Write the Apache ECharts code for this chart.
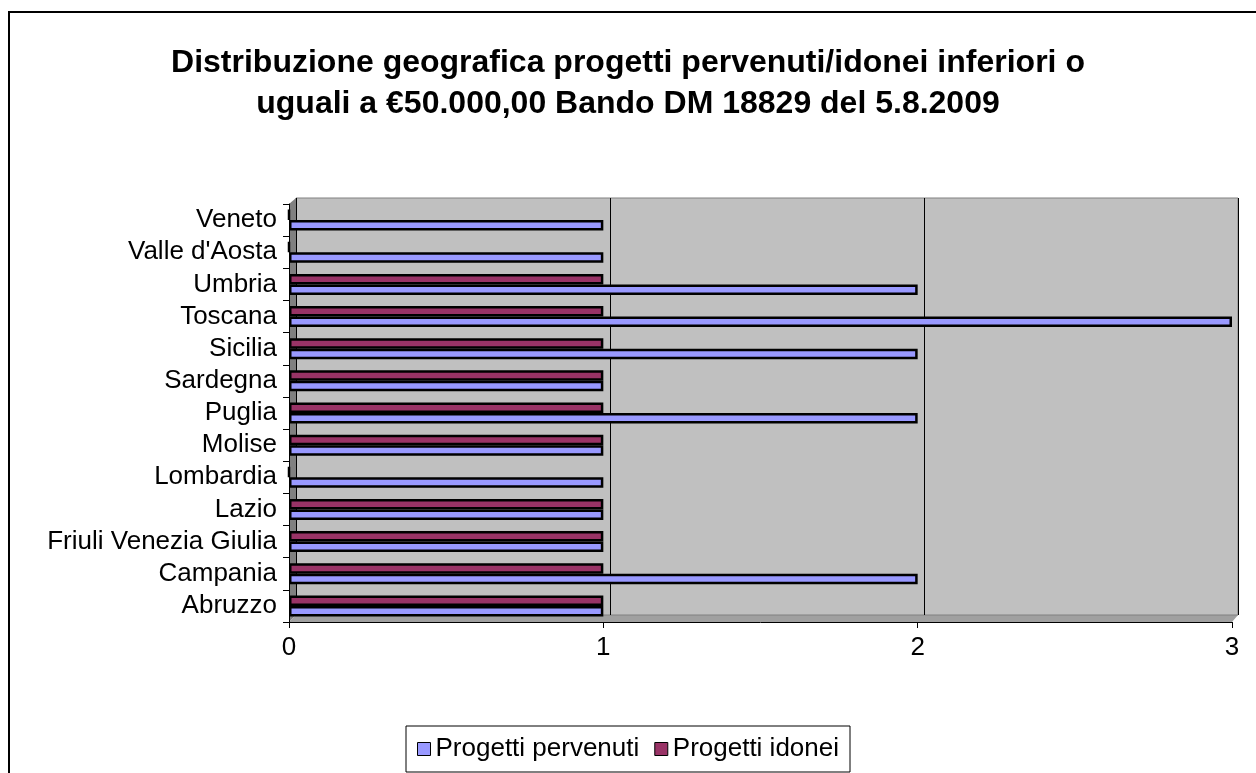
<!DOCTYPE html>
<html>
<head>
<meta charset="utf-8">
<script src="https://cdn.jsdelivr.net/npm/echarts@6/dist/echarts.min.js"></script>
<style>
  html, body { margin: 0; padding: 0; background: #fff; }
  #chart { width: 1256px; height: 773px; }
</style>
</head>
<body>
<div id="chart"></div>
<script>
// regions, bottom to top as on the axis
var regioni = ['Abruzzo', 'Campania', 'Friuli Venezia Giulia', 'Lazio', 'Lombardia', 'Molise',
  'Puglia', 'Sardegna', 'Sicilia', 'Toscana', 'Umbria', "Valle d'Aosta", 'Veneto']
var pervenuti = [1, 2, 1, 1, 1, 1, 2, 1, 2, 3, 2, 1, 1]
var idonei = [1, 1, 1, 1, 0, 1, 1, 1, 1, 1, 1, 0, 0]
var xTicks = [0, 1, 2, 3]

var font = 'Liberation Sans, Arial, sans-serif'
var chart = echarts.init(document.getElementById('chart'))

var option = {
  animation: false,
  backgroundColor: '#fff',
  title: {
    text: 'Distribuzione geografica progetti pervenuti/idonei inferiori o\nuguali a €50.000,00 Bando DM 18829 del 5.8.2009',
    left: 'center',
    top: 38,
    textStyle: { fontFamily: font, fontSize: 32, fontWeight: 'bold', color: '#000', lineHeight: 41 }
  },
  legend: {
    top: 726,
    left: 406,
    data: ['Progetti pervenuti', 'Progetti idonei'],
    itemWidth: 13,
    itemHeight: 13,
    itemGap: 15,
    padding: [10, 11, 10, 11],
    borderColor: '#000',
    borderWidth: 1,
    icon: 'rect',
    itemStyle: { borderColor: '#000', borderWidth: 1 },
    textStyle: { fontFamily: font, fontSize: 26, color: '#000' }
  },
  grid: [
    // front (axes + bars)
    { left: 289, right: 24, top: 204, bottom: 151, containLabel: false },
    // back wall of the 3D plot
    { left: 296, right: 18, top: 198, bottom: 158, show: true, backgroundColor: '#C0C0C0',
      borderColor: '#808080', borderWidth: 1, z: 0 }
  ],
  xAxis: [
    {
      gridIndex: 0, type: 'value', min: xTicks[0], max: xTicks[xTicks.length - 1], interval: 1,
      axisLine: { show: true, lineStyle: { color: '#000', width: 1 } },
      axisTick: { show: true, length: 6, lineStyle: { color: '#000' } },
      axisLabel: { fontFamily: font, fontSize: 26, color: '#000', margin: 13 },
      splitLine: { show: false }
    },
    {
      gridIndex: 1, type: 'value', min: xTicks[0], max: xTicks[xTicks.length - 1], interval: 1,
      axisLine: { show: false }, axisTick: { show: false }, axisLabel: { show: false },
      splitLine: { show: true, lineStyle: { color: '#000', width: 1 } }
    }
  ],
  yAxis: [
    {
      gridIndex: 0, type: 'category', data: regioni,
      axisLine: { show: true, lineStyle: { color: '#000', width: 1 } },
      axisTick: { show: true, length: 6, lineStyle: { color: '#000' } },
      axisLabel: { fontFamily: font, fontSize: 26, color: '#000', margin: 12, interval: 0 }
    },
    {
      gridIndex: 1, type: 'category', data: regioni, show: false
    }
  ],
  series: [
    {
      name: 'Progetti idonei', type: 'bar', xAxisIndex: 0, yAxisIndex: 0,
      data: idonei, barWidth: 10.5, barGap: '0%', z: 3,
      itemStyle: { color: '#993366', borderColor: '#000', borderWidth: 2.5 }
    },
    {
      name: 'Progetti pervenuti', type: 'bar', xAxisIndex: 0, yAxisIndex: 0,
      data: pervenuti, barWidth: 10.5, barGap: '0%', z: 3,
      itemStyle: { color: '#9999FF', borderColor: '#000', borderWidth: 2.5 }
    }
  ]
}
chart.setOption(option)

// side wall, floor and outer frame drawn from the grid positions
var g0 = chart.getModel().getComponent('grid', 0).coordinateSystem.getRect()
var g1 = chart.getModel().getComponent('grid', 1).coordinateSystem.getRect()
chart.setOption({
  graphic: [
    { type: 'polygon', z: -1, shape: { points: [[g0.x, g0.y], [g1.x, g1.y], [g1.x, g1.y + g1.height], [g0.x, g0.y + g0.height]] },
      style: { fill: '#808080' } },
    { type: 'polygon', z: -1, shape: { points: [[g0.x, g0.y + g0.height], [g1.x, g1.y + g1.height], [g1.x + g1.width, g1.y + g1.height], [g0.x + g0.width, g0.y + g0.height]] },
      style: { fill: '#A0A0A0' } },
    { type: 'rect', shape: { x: 9, y: 12, width: 1400, height: 900 }, style: { fill: null, stroke: '#000', lineWidth: 2 } }
  ]
})
</script>
</body>
</html>
